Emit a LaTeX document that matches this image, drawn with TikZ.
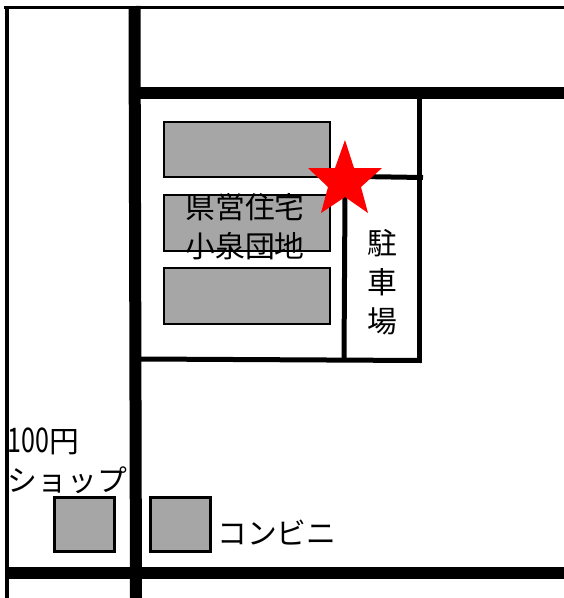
\documentclass[tikz,border=0pt]{standalone}
\usepackage{fontspec}
\newfontfamily\jp{Noto Sans CJK JP}
\tikzset{
  bldg/.style={draw=black,line width=2.4pt,fill=black!35,inner sep=0pt,outer sep=0pt},
  road/.style={draw=black,line width=12pt},
  lane/.style={draw=black,line width=5pt},
  edgeline/.style={draw=black,line width=3.5pt},
  lbl/.style={inner sep=0pt,font=\jp\fontsize{29.8}{39}\selectfont,align=center,text=black},
  lblleft/.style={inner sep=0pt,font=\jp\fontsize{29.8}{39}\selectfont,align=left,text=black}
}
\begin{document}
\begin{tikzpicture}[x=1pt,y=-1pt]
\useasboundingbox (0,0) rectangle (564,598);
% coordinates
\coordinate (tl) at (4,7.5);
\coordinate (tr) at (564,7.5);
\coordinate (lt) at (7,6);
\coordinate (lb) at (7,598);
\coordinate (mt) at (134.5,6);
\coordinate (mb) at (136,598);
\coordinate (hl) at (135,93);
\coordinate (hr) at (564,93);
\coordinate (bl) at (7,572.5);
\coordinate (br) at (564,572.5);
\coordinate (rt) at (419,99);
\coordinate (rb) at (419,363);
\coordinate (sl) at (141,359);
\coordinate (sr) at (421,360.5);
\coordinate (pt) at (345,195);
\coordinate (pb) at (344,360);
\coordinate (al) at (360,176.5);
\coordinate (ar) at (423,177.5);
% edges and roads
\draw[edgeline] (tl) -- (tr);
\draw[edgeline] (lt) -- (lb);
\draw[road] (mt) -- (mb);
\draw[road] (hl) -- (hr);
\draw[road] (bl) -- (br);
\draw[lane] (rt) -- (rb);
\draw[lane] (sl) -- (sr);
\draw[lane] (pt) -- (pb);
\draw[lane] (al) -- (ar);
% buildings
\node[bldg,minimum width=166pt,minimum height=55pt] (b1) at (247,149.5) {};
\node[bldg,minimum width=166pt,minimum height=55.5pt] (b2) at (247,223) {};
\node[bldg,minimum width=166pt,minimum height=55.5pt] (b3) at (247,296) {};
\node[bldg,minimum width=60pt,minimum height=54pt] (s1) at (84.5,524.5) {};
\node[bldg,minimum width=60pt,minimum height=54pt] (s2) at (180.5,524.5) {};
% labels
\node[lbl] (t1) at (245,227) {県営住宅\\小泉団地};
\node[lbl] (t2) at (382,282) {駐\\車\\場};
\node[lblleft,anchor=west] (t3) at (7.5,461) {\scalebox{0.84}[1.14]{100}円\\ショップ};
\node[lbl,anchor=west] (t4) at (217,533) {コンビニ};
% star
\fill[red] (345,140) -- (354,168) -- (382,168) -- (361,187) -- (368,213) -- (345,197) -- (321,213) -- (328,187) -- (308,168) -- (335,168) -- cycle;
\end{tikzpicture}
\end{document}
